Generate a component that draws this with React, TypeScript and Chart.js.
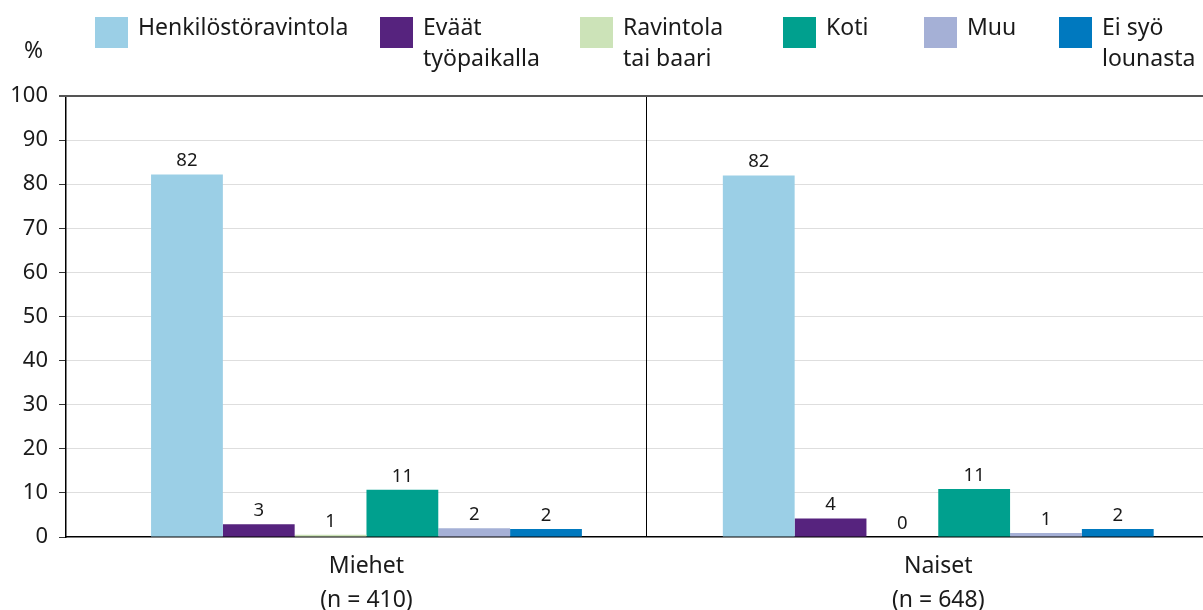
import React, { useEffect, useRef } from 'react';
import { Chart, registerables } from 'chart.js';

Chart.register(...registerables);

// ---- Data ----
const groupLabels: string[][] = [
  ['Miehet', '(n = 410)'],
  ['Naiset', '(n = 648)'],
];
const seriesNames: string[][] = [
  ['Henkilöstöravintola'],
  ['Eväät', 'työpaikalla'],
  ['Ravintola', 'tai baari'],
  ['Koti'],
  ['Muu'],
  ['Ei syö', 'lounasta'],
];
const henkilostoravintola = [82.2, 82.0];
const evaatTyopaikalla = [2.9, 4.2];
const ravintolaTaiBaari = [0.5, 0.0];
const koti = [10.7, 10.9];
const muu = [2.0, 0.9];
const eiSyoLounasta = [1.8, 1.8];
const seriesValues = [henkilostoravintola, evaatTyopaikalla, ravintolaTaiBaari, koti, muu, eiSyoLounasta];
const yTicks = [0, 10, 20, 30, 40, 50, 60, 70, 80, 90, 100];

// ---- Styles / layout ----
const colors = ['#9bcfe6', '#56237e', '#cce3b8', '#00a08e', '#a5b0d6', '#0079bf'];
const legendLeft = [95, 380, 580, 783, 924, 1059];
const FONT = '"Noto Sans", sans-serif';
const TEXT = '#1a1a1a';
const SEPARATOR = 0.489;

const overlayPlugin = {
  id: 'overlay',
  afterDatasetsDraw(chart: any) {
    const { ctx, chartArea, scales } = chart;
    const xs = scales.x;
    const ys = scales.y;
    ctx.save();
    // group separator
    const sx = Math.round(xs.getPixelForValue(SEPARATOR)) + 0.5;
    ctx.strokeStyle = '#000';
    ctx.lineWidth = 1;
    ctx.beginPath();
    ctx.moveTo(sx, chartArea.top);
    ctx.lineTo(sx, chartArea.bottom);
    ctx.stroke();
    // top line at 100
    const ty = ys.getPixelForValue(100);
    ctx.strokeStyle = '#555';
    ctx.lineWidth = 2;
    ctx.beginPath();
    ctx.moveTo(chartArea.left - 7, ty);
    ctx.lineTo(chartArea.right, ty);
    ctx.stroke();
    // value labels
    ctx.font = `18.5px ${FONT}`;
    ctx.fillStyle = TEXT;
    ctx.textAlign = 'center';
    ctx.textBaseline = 'alphabetic';
    chart.data.datasets.forEach((ds: any, di: number) => {
      const meta = chart.getDatasetMeta(di);
      meta.data.forEach((bar: any, i: number) => {
        const v = ds.data[i].y;
        ctx.fillText(String(Math.round(v)), bar.x, bar.y - 8);
      });
    });
    ctx.restore();
  },
};

export default function App() {
  const ref = useRef<HTMLCanvasElement>(null);

  useEffect(() => {
    if (!ref.current) return;
    const chart = new Chart(ref.current, {
      type: 'bar',
      data: {
        datasets: seriesValues.map((vals, si) => ({
          label: seriesNames[si].join(' '),
          data: vals.map((v, i) => ({ x: i, y: v })),
          backgroundColor: colors[si],
          borderWidth: 0,
          categoryPercentage: 0.7535,
          barPercentage: 1,
        })),
      },
      options: {
        animation: false,
        responsive: false,
        devicePixelRatio: 1,
        layout: { padding: { top: 96, right: 0, left: 0, bottom: 0 } },
        plugins: {
          legend: { display: false },
          tooltip: { enabled: false },
        },
        scales: {
          x: {
            type: 'linear',
            offset: false,
            min: -0.5255,
            max: 1.463,
            afterBuildTicks: (scale: any) => {
              scale.ticks = groupLabels.map((_, i) => ({ value: i }));
            },
            afterFit: (scale: any) => {
              scale.height = 73;
            },
            grid: { display: false, drawTicks: false },
            border: { display: true, color: '#000', width: 1.5 },
            ticks: {
              autoSkip: false,
              maxRotation: 0,
              padding: 13,
              color: TEXT,
              font: { family: FONT, size: 23, lineHeight: 1.45 },
              callback: (v: any) => groupLabels[Math.round(Number(v))] ?? '',
            },
          },
          y: {
            min: 0,
            max: 100,
            afterBuildTicks: (scale: any) => {
              scale.ticks = yTicks.map((v) => ({ value: v }));
            },
            afterFit: (scale: any) => {
              scale.width = 66;
            },
            grid: {
              color: (c: any) => (c.tick && (c.tick.value === 0 || c.tick.value === 100) ? 'rgba(0,0,0,0)' : '#bdbdbd'),
              lineWidth: 1,
              drawTicks: true,
              tickLength: 7,
              tickColor: '#333',
              tickWidth: 1,
              tickBorderDash: [],
            },
            border: { display: true, color: '#000', width: 1.5, dash: [1, 1] },
            ticks: {
              padding: 11,
              color: TEXT,
              font: { family: FONT, size: 22 },
            },
          },
        },
      },
      plugins: [overlayPlugin],
    } as any);
    return () => chart.destroy();
  }, []);

  return (
    <div style={{ position: 'absolute', left: 0, top: 0, width: 1203, height: 610, background: '#fff', overflow: 'hidden' }}>
      <canvas ref={ref} width={1203} height={610} style={{ display: 'block' }} />
      <div style={{ position: 'absolute', left: 24, top: 34, font: `23px ${FONT}`, color: TEXT, lineHeight: '30px' }}>%</div>
      {seriesNames.map((lines, i) => (
        <div key={i} style={{ position: 'absolute', left: legendLeft[i], top: 17, display: 'flex', alignItems: 'flex-start' }}>
          <div style={{ width: 33, height: 31, background: colors[i], flex: '0 0 auto' }} />
          <div style={{ marginLeft: 10, marginTop: -6, font: `23px ${FONT}`, lineHeight: '31px', color: TEXT, whiteSpace: 'nowrap' }}>
            {lines.map((l, j) => (
              <div key={j}>{l}</div>
            ))}
          </div>
        </div>
      ))}
    </div>
  );
}
